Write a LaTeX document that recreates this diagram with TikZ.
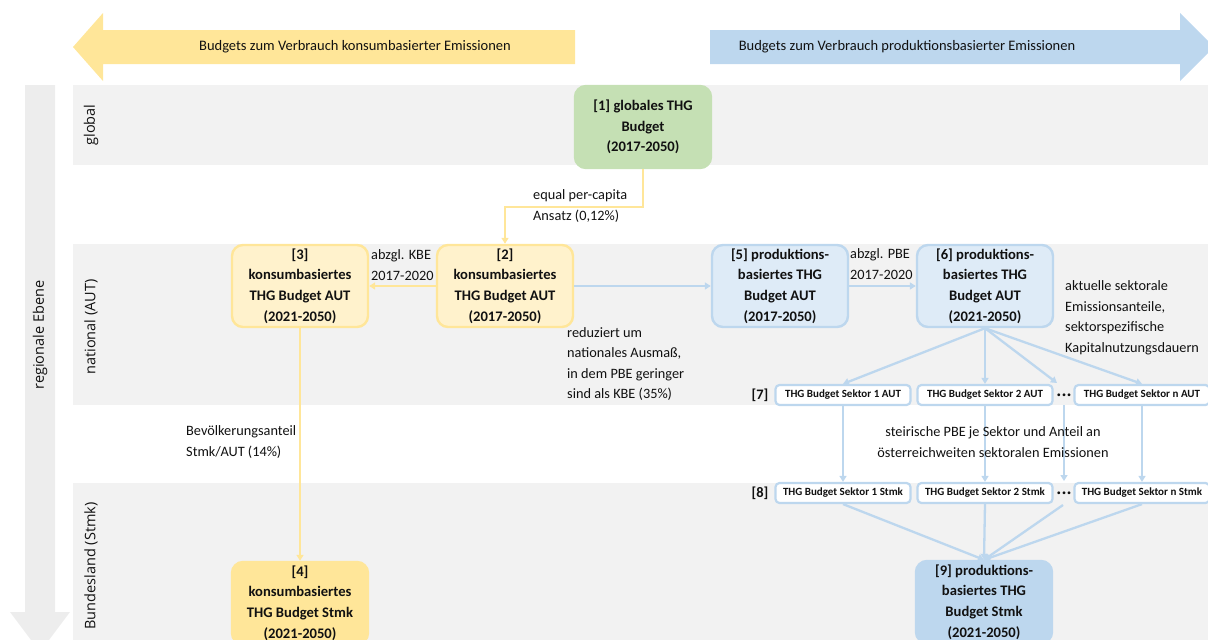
\documentclass[tikz,border=0pt]{standalone}
\usepackage{fontspec}
\setmainfont{Carlito}
\newfontfamily\osans{Open Sans}
\usetikzlibrary{arrows.meta}
\definecolor{yel}{HTML}{FFE699}
\definecolor{yell}{HTML}{FFF2CC}
\definecolor{blu}{HTML}{BDD7EE}
\definecolor{blul}{HTML}{DEEBF7}
\definecolor{grn}{HTML}{C5E0B4}
\definecolor{bandc}{HTML}{F2F2F2}
\definecolor{garr}{HTML}{EDEDED}
\definecolor{txt}{HTML}{111111}
\begin{document}
\begin{tikzpicture}[x=1pt,y=-1pt,
  box/.style={rounded corners=11pt, minimum width=136pt, minimum height=82pt, align=center,
    font=\fontsize{14.6}{20.6}\selectfont\bfseries, inner sep=0pt, line width=2.4pt, text=txt},
  sbox/.style={rounded corners=4pt, draw=blu, fill=white, line width=2.2pt, minimum width=135pt,
    minimum height=20pt, inner sep=0pt, font=\fontsize{11}{12}\selectfont\bfseries, text=txt},
  lbl/.style={inner sep=0pt, align=left, anchor=west, font=\fontsize{14.3}{20.5}\selectfont, text=txt},
  bandlbl/.style={rotate=90, inner sep=0pt, font=\osans\fontsize{14.5}{16}\selectfont, text=txt},
  dotsl/.style={font=\fontsize{15}{16}\selectfont\bfseries, text=txt, inner sep=0pt},
  yarr/.style={draw=yel, line width=2.3pt, -{Triangle[width=7pt,length=6pt]}},
  barr/.style={draw=blu, line width=2.3pt, -{Triangle[width=7pt,length=6pt]}}]
\useasboundingbox (0,0) rectangle (1208,640);
% bands
\fill[bandc] (73,85) rectangle (1208,165);
\fill[bandc] (73,244) rectangle (1208,405);
\fill[bandc] (73,483) rectangle (1208,640);
% vertical gray arrow
\fill[garr] (25,85) -- (55,85) -- (55,612) -- (70,612) -- (40,652) -- (10,612) -- (25,612) -- cycle;
\node[bandlbl] (reg) at (40,335) {regionale Ebene};
\node[bandlbl] (glob) at (91,125) {global};
\node[bandlbl] (nat) at (91,327) {national (AUT)};
\node[bandlbl] (bl) at (91,566) {Bundesland (Stmk)};
% top arrows
\fill[yel] (575,30) -- (103,30) -- (103,13) -- (73,47) -- (103,81) -- (103,64) -- (575,64) -- cycle;
\node[font=\fontsize{14.5}{16}\selectfont, text=txt, inner sep=0pt] (ta) at (355,47) {Budgets zum Verbrauch konsumbasierter Emissionen};
\fill[blu] (710,30) -- (1180,30) -- (1180,13) -- (1214,47) -- (1180,81) -- (1180,64) -- (710,64) -- cycle;
\node[font=\fontsize{14.5}{16}\selectfont, text=txt, inner sep=0pt] (tb) at (907,47) {Budgets zum Verbrauch produktionsbasierter Emissionen};
% main nodes
\node[box, draw=grn, fill=grn] (n1) at (643,127) {[1] globales THG\\Budget\\(2017-2050)};
\node[box, draw=yel, fill=yell] (n2) at (505,286) {[2]\\konsumbasiertes\\THG Budget AUT\\(2017-2050)};
\node[box, draw=yel, fill=yell] (n3) at (300,286) {[3]\\konsumbasiertes\\THG Budget AUT\\(2021-2050)};
\node[box, draw=yel, fill=yel] (n4) at (300,603) {[4]\\konsumbasiertes\\THG Budget Stmk\\(2021-2050)};
\node[box, draw=blu, fill=blul] (n5) at (780,286) {[5] produktions-\\basiertes THG\\Budget AUT\\(2017-2050)};
\node[box, draw=blu, fill=blul] (n6) at (985,286) {[6] produktions-\\basiertes THG\\Budget AUT\\(2021-2050)};
\node[box, draw=blu, fill=blu] (n9) at (984,602) {[9] produktions-\\basiertes THG\\Budget Stmk\\(2021-2050)};
% sector rows
\node[font=\fontsize{14.5}{16}\selectfont\bfseries, text=txt, inner sep=0pt] (l7) at (760,395) {[7]};
\node[sbox] (s1) at (843,395) {THG Budget Sektor 1 AUT};
\node[sbox] (s2) at (985,395) {THG Budget Sektor 2 AUT};
\node[dotsl] (d7) at (1064,397) {·\kern1pt·\kern1pt·};
\node[sbox] (sn) at (1142,395) {THG Budget Sektor n AUT};
\node[font=\fontsize{14.5}{16}\selectfont\bfseries, text=txt, inner sep=0pt] (l8) at (760,493) {[8]};
\node[sbox] (t1) at (843,493) {THG Budget Sektor 1 Stmk};
\node[sbox] (t2) at (985,493) {THG Budget Sektor 2 Stmk};
\node[dotsl] (d8) at (1064,495) {·\kern1pt·\kern1pt·};
\node[sbox] (tn) at (1142,493) {THG Budget Sektor n Stmk};
\coordinate (d7t) at (1057,383);
\coordinate (d7b) at (1064,405);
\coordinate (d8t) at (1064,481);
\coordinate (d8b) at (1063,505);
\coordinate (k1) at (505,207);
% connectors
\draw[yarr] (n1.south) |- (k1) -- (n2.north);
\draw[yarr] (n2.west) -- (n3.east);
\draw[yarr] (n3.south) -- (n4.north);
\draw[barr] (n2.east) -- (n5.west);
\draw[barr] (n5.east) -- (n6.west);
\draw[barr] (n6.south) -- (s1.north);
\draw[barr] (n6.south) -- (s2.north);
\draw[barr] (n6.south) -- (d7t);
\draw[barr] (n6.south) -- (sn.north);
\draw[barr] (s1.south) -- (t1.north);
\draw[barr] (s2.south) -- (t2.north);
\draw[barr] (d7b) -- (d8t);
\draw[barr] (sn.south) -- (tn.north);
\draw[barr] (t1.south) -- (n9.north);
\draw[barr] (t2.south) -- (n9.north);
\draw[barr] (d8b) -- (n9.north);
\draw[barr] (tn.south) -- (n9.north);
% labels
\node[lbl] (la) at (533,206) {equal per-capita\\Ansatz (0,12\%)};
\node[lbl] (lb) at (371,265) {abzgl. KBE\\2017-2020};
\node[lbl] (lc) at (567,364) {reduziert um\\nationales Ausmaß,\\in dem PBE geringer\\sind als KBE (35\%)};
\node[lbl] (ld) at (850,264) {abzgl. PBE\\2017-2020};
\node[lbl] (le) at (1065,318) {aktuelle sektorale\\Emissionsanteile,\\sektorspezifische\\Kapitalnutzungsdauern};
\node[lbl, anchor=center, align=center] (lf) at (993,442) {steirische PBE je Sektor und Anteil an\\österreichweiten sektoralen Emissionen};
\node[lbl] (lg) at (186,442) {Bevölkerungsanteil\\Stmk/AUT (14\%)};
\end{tikzpicture}
\end{document}
